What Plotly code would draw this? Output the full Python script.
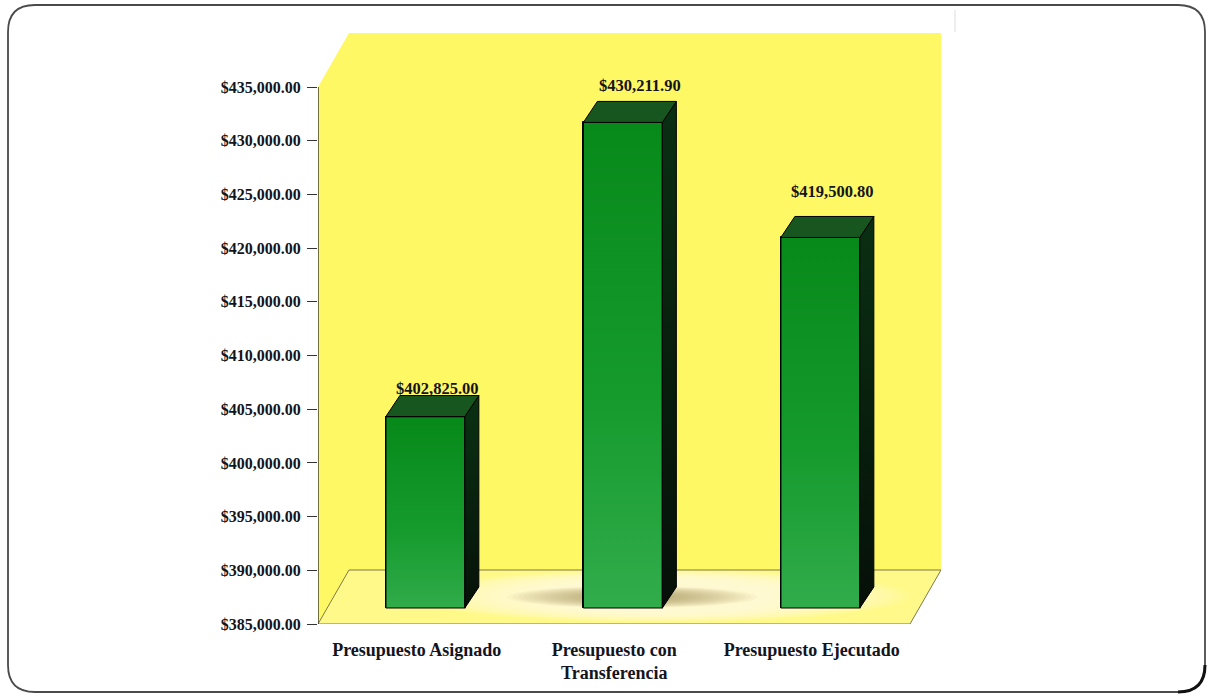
import plotly.graph_objects as go

categories = ["Presupuesto Asignado", "Presupuesto con<br>Transferencia", "Presupuesto Ejecutado"]
values = [402825.00, 430211.90, 419500.80]
value_labels = ["$402,825.00", "$430,211.90", "$419,500.80"]
y_ticks = [385000, 390000, 395000, 400000, 405000, 410000, 415000, 420000, 425000, 430000, 435000]
y_tick_labels = ["$%s.00" % format(v, ",") for v in y_ticks]

W, H = 1209, 696
X0_PX, X1_PX, Y0_PX, Y1_PX = 318, 941, 624, 33   # plot area in pixels
UNIT_X = 197.5                                    # pixels per category
PX_PER_Y = 537 / 50000                            # pixels per dollar


def xpx(p):
    return -0.5 + (p - X0_PX) / UNIT_X


def ypx(p):
    return 385000 + (Y0_PX - p) / PX_PER_Y


FLOOR = 16 / PX_PER_Y        # bars stand on the floor, in front of the back wall
DEPTH_X = 14 / UNIT_X
DEPTH_Y = 21 / PX_PER_Y
BAR_W = 79 / UNIT_X
BAR_SHIFT = 8.6 / UNIT_X
LABEL_DX = [12 / UNIT_X, 17 / UNIT_X, 12 / UNIT_X]
LABEL_DY = [27 / PX_PER_Y, 36 / PX_PER_Y, 45 / PX_PER_Y]

SERIF = "Liberation Serif"
INK = "#14141c"
YELLOW = "#fff865"


def poly(xs, ys, fill, line="rgba(0,0,0,0)", width=0):
    path = "M " + " L ".join(f"{x},{y}" for x, y in zip(xs, ys)) + " Z"
    return dict(type="path", xref="x", yref="y", path=path, fillcolor=fill,
                line=dict(color=line, width=width), layer="below")


def ellipse(cx, cy, rx, ry, fill, opacity):
    return dict(type="circle", xref="x", yref="y", layer="below",
                x0=xpx(cx - rx), x1=xpx(cx + rx), y0=ypx(cy + ry), y1=ypx(cy - ry),
                fillcolor=fill, opacity=opacity, line=dict(width=0))


shapes = []
# back wall and side wall
shapes.append(poly([xpx(349), xpx(941), xpx(941), xpx(349)],
                   [ypx(33), ypx(33), ypx(570), ypx(570)], YELLOW))
shapes.append(poly([xpx(318), xpx(349), xpx(349), xpx(318)],
                   [ypx(87), ypx(33), ypx(570), ypx(624)], YELLOW))
# floor
shapes.append(poly([xpx(318), xpx(349), xpx(941), xpx(910)],
                   [ypx(624), ypx(570), ypx(570), ypx(624)], "#fff98a"))
# soft light pool and shadow on the floor
for k in range(18):
    shapes.append(ellipse(660, 596, 250 - 8 * k, 26 - 0.5 * k, "#fdfbe6", 0.10))
for k in range(20):
    shapes.append(ellipse(632, 597, 125 - 5.5 * k, 11 - 0.45 * k, "#a08a48", 0.05))
# floor outline
shapes.append(poly([xpx(318), xpx(349), xpx(941), xpx(910)],
                   [ypx(624), ypx(570), ypx(570), ypx(624)], "rgba(0,0,0,0)", "#5a5a30", 0.8))
# vertical axis line
shapes.append(dict(type="line", xref="x", yref="y", x0=xpx(318), x1=xpx(318),
                   y0=ypx(87), y1=ypx(624), line=dict(color="#333333", width=1.4), layer="above"))


# rounded scan frame, drawn on the page
def fx(p):
    return p / W


def fy(p):
    return 1 - p / H


L, R, T, B, C = 8, 1205, 5, 692, 27
frame = (f"M {fx(L)},{fy(T + C)} Q {fx(L)},{fy(T)} {fx(L + C)},{fy(T)} L {fx(R - C)},{fy(T)} "
         f"Q {fx(R)},{fy(T)} {fx(R)},{fy(T + C)} L {fx(R)},{fy(B - C)} "
         f"Q {fx(R)},{fy(B)} {fx(R - C)},{fy(B)} L {fx(L + C)},{fy(B)} "
         f"Q {fx(L)},{fy(B)} {fx(L)},{fy(B - C)} Z")
shapes.append(dict(type="path", xref="paper", yref="paper", path=frame,
                   line=dict(color="#4a4a4a", width=1.8), fillcolor="rgba(0,0,0,0)"))
corner = f"M {fx(R)},{fy(B - C)} Q {fx(R)},{fy(B)} {fx(R - C)},{fy(B)}"
shapes.append(dict(type="path", xref="paper", yref="paper", path=corner,
                   line=dict(color="#111111", width=3), fillcolor="rgba(0,0,0,0)"))
shapes.append(dict(type="line", xref="paper", yref="paper", x0=fx(955), x1=fx(955), y0=fy(10), y1=fy(32),
                   line=dict(color="#dddddd", width=1)))

fig = go.Figure()
centers = [i + BAR_SHIFT for i in range(len(values))]
base = 385000 + FLOOR

fig.add_trace(go.Bar(x=centers, y=[v - base + FLOOR for v in values], base=base,
                     width=BAR_W, marker=dict(color="#119a25", line=dict(color="#000000", width=1)),
                     hoverinfo="skip", showlegend=False))

for c, v in zip(centers, values):
    top = v + FLOOR
    xl, xr = c - BAR_W / 2, c + BAR_W / 2
    # front face gradient
    fig.add_trace(go.Scatter(x=[xl, xr, xr, xl, xl], y=[base, base, top, top, base], mode="lines",
                             fill="toself", line=dict(color="#000000", width=1.2),
                             fillgradient=dict(type="vertical", start=top, stop=base,
                                               colorscale=[[0, "#078a1a"], [0.55, "#159a2c"], [1, "#33ad4d"]]),
                             hoverinfo="skip", showlegend=False))
    # right side face
    fig.add_trace(go.Scatter(x=[xr, xr + DEPTH_X, xr + DEPTH_X, xr, xr],
                             y=[base, base + DEPTH_Y, top + DEPTH_Y, top, base], mode="lines",
                             fill="toself", line=dict(color="#000000", width=1),
                             fillgradient=dict(type="vertical", start=top, stop=base,
                                               colorscale=[[0, "#0a2e12"], [1, "#060f08"]]),
                             hoverinfo="skip", showlegend=False))
    # top face
    fig.add_trace(go.Scatter(x=[xl, xr, xr + DEPTH_X, xl + DEPTH_X, xl],
                             y=[top, top, top + DEPTH_Y, top + DEPTH_Y, top], mode="lines",
                             fill="toself", fillcolor="#185620", line=dict(color="#000000", width=1),
                             hoverinfo="skip", showlegend=False))

fig.add_trace(go.Scatter(
    x=[c + d for c, d in zip(centers, LABEL_DX)],
    y=[v + FLOOR + d for v, d in zip(values, LABEL_DY)],
    mode="text", text=value_labels, textposition="middle center",
    textfont=dict(family=SERIF, size=16.5, color=INK, weight="bold"),
    hoverinfo="skip", showlegend=False))

fig.update_layout(
    width=W, height=H + 9, margin=dict(l=0, r=0, t=0, b=0),
    paper_bgcolor="#ffffff", plot_bgcolor="rgba(0,0,0,0)",
    shapes=shapes, bargap=0, showlegend=False,
    xaxis=dict(domain=[X0_PX / W, X1_PX / W], range=[xpx(X0_PX), xpx(X1_PX)],
               tickmode="array", tickvals=list(range(len(categories))), ticktext=categories,
               ticks="", showgrid=False, zeroline=False, showline=False, ticklabelstandoff=13,
               tickfont=dict(family=SERIF, size=18, color=INK, weight="bold")),
    yaxis=dict(domain=[1 - Y0_PX / H, 1 - Y1_PX / H], range=[ypx(Y0_PX), ypx(Y1_PX)],
               tickmode="array", tickvals=y_ticks, ticktext=y_tick_labels,
               ticks="outside", ticklen=10, tickwidth=1.2, tickcolor="#333333",
               showgrid=False, zeroline=False, showline=False, ticklabelstandoff=3,
               tickfont=dict(family=SERIF, size=16, color=INK, weight="bold")),
)

fig.write_html("out.html", config=dict(displayModeBar=False, responsive=False),
               post_script="document.body.style.margin='0';")
